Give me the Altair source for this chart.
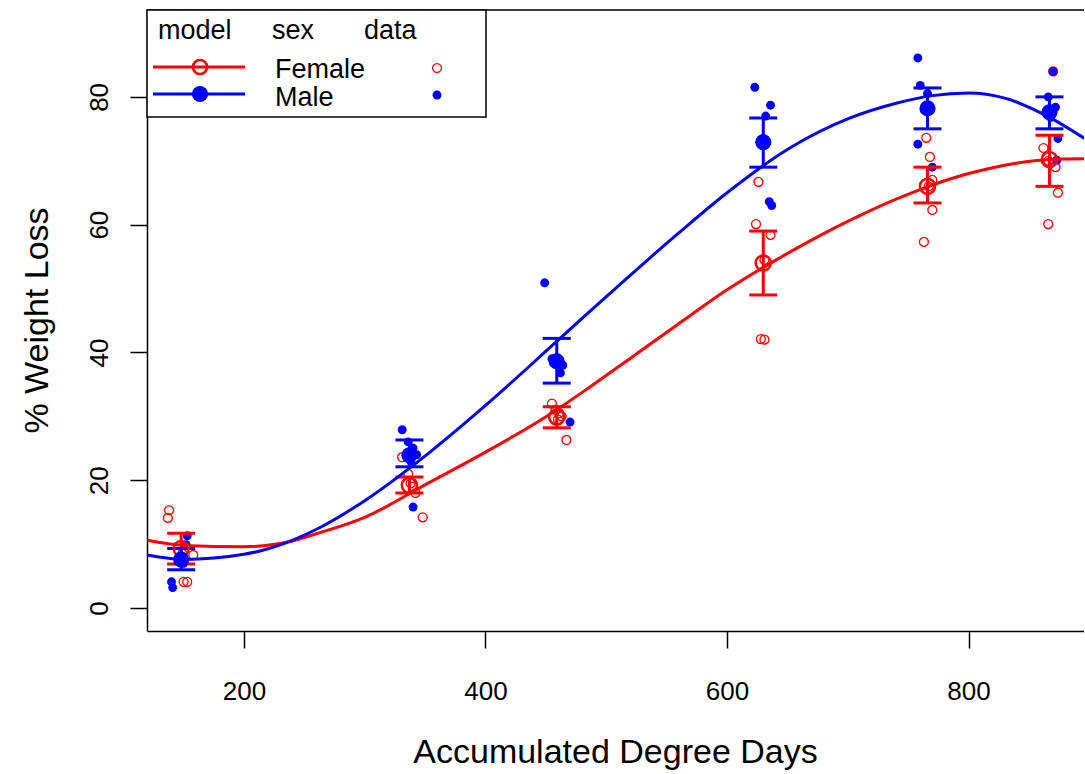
import altair as alt
import pandas as pd

# Group centres (accumulated degree days) at which each sampling took place
group_x = [148, 337, 459, 630, 766, 867]

# Raw observations, female
female_x = [138, 137, 150, 153, 149, 158,
            331, 336, 338, 340, 342, 348,
            455, 458, 461, 463, 460, 467,
            626, 624, 636, 631, 628, 631,
            765, 768, 770, 767, 770, 763,
            870, 862, 866, 872, 874, 866]
female_y = [15.3, 14.1, 4.1, 4.1, 8.5, 8.3,
            23.6, 21.0, 19.5, 19.0, 18.0, 14.2,
            32.0, 31.0, 30.5, 30.0, 29.5, 26.3,
            66.7, 60.1, 58.4, 54.5, 42.1, 42.0,
            73.6, 70.6, 67.0, 66.0, 62.3, 57.3,
            84.0, 72.0, 70.0, 69.0, 65.0, 60.1]

# Raw observations, male
male_x = [140, 141, 153, 152, 147, 150,
          331, 336, 340, 343, 338, 340,
          449, 455, 461, 464, 462, 470,
          623, 636, 632, 630, 635, 637,
          758, 760, 766, 768, 758, 770,
          870, 866, 872, 868, 874, 873]
male_y = [4.1, 3.2, 11.3, 9.9, 8.0, 7.0,
          27.9, 26.0, 25.0, 24.0, 23.0, 15.8,
          50.9, 39.0, 38.5, 38.0, 36.8, 29.1,
          81.5, 78.7, 77.0, 73.5, 63.6, 63.0,
          86.1, 81.8, 80.5, 78.0, 72.6, 69.0,
          84.0, 80.0, 78.4, 76.8, 73.5, 70.1]

# Group means with standard-error limits
female_mean = [9.3, 19.2, 29.9, 54.0, 66.0, 70.2]
female_lo = [6.9, 18.0, 28.2, 49.0, 63.4, 66.0]
female_hi = [11.7, 20.5, 31.5, 59.0, 69.0, 74.0]
male_mean = [7.6, 23.9, 38.6, 72.9, 78.2, 77.6]
male_lo = [6.0, 22.1, 35.2, 69.0, 75.0, 75.0]
male_hi = [9.3, 26.3, 42.2, 76.7, 81.4, 80.0]

# Fitted model curves
fit_x = [120, 150, 200, 240, 263, 300, 354, 400, 453, 485, 520,
         560, 600, 652, 702, 740, 770, 800, 830, 867, 896]
female_fit = [10.6, 9.8, 9.6, 10.5, 11.8, 14.2, 19.7, 24.4, 30.3, 34.4, 39.1,
              44.5, 49.8, 55.7, 60.7, 64.0, 66.2, 68.0, 69.3, 70.2, 70.3]
male_fit = [8.3, 7.6, 8.4, 10.6, 12.6, 16.8, 24.4, 31.7, 40.7, 46.2, 52.1,
            58.7, 65.0, 72.0, 76.7, 79.0, 80.2, 80.6, 79.8, 76.8, 73.5]

RED = "#ff0000"
BLUE = "#0000ff"
FONT = "Liberation Sans"
W, H = 937, 621

raw_f = pd.DataFrame({"x": female_x, "y": female_y})
raw_m = pd.DataFrame({"x": male_x, "y": male_y})
means_f = pd.DataFrame({"x": group_x, "y": female_mean, "lo": female_lo, "hi": female_hi})
means_m = pd.DataFrame({"x": group_x, "y": male_mean, "lo": male_lo, "hi": male_hi})
fit_f = pd.DataFrame({"x": fit_x, "y": female_fit})
fit_m = pd.DataFrame({"x": fit_x, "y": male_fit})
single = pd.DataFrame({"k": [0]})

xscale = alt.Scale(domain=[119.7, 895.6], nice=False, zero=False)
yscale = alt.Scale(domain=[-3.6, 93.6], nice=False, zero=False)

xaxis = alt.Axis(values=[200, 400, 600, 800], grid=False, tickSize=17, tickWidth=1.5,
                 tickColor="#000", domainColor="#000", domainWidth=1.5,
                 labelFont=FONT, labelFontSize=26, labelColor="#000",
                 labelBaseline="alphabetic", labelPadding=51,
                 titleFont=FONT, titleFontSize=34, titleFontWeight="normal", titleColor="#000",
                 titleX=468, titleY=131, titleAlign="center", titleBaseline="alphabetic")
yaxis = alt.Axis(values=[0, 20, 40, 60, 80], grid=False, tickSize=17, tickWidth=1.5,
                 tickColor="#000", domainColor="#000", domainWidth=1.5,
                 labelFont=FONT, labelFontSize=26, labelColor="#000",
                 labelAngle=270, labelAlign="center", labelBaseline="alphabetic",
                 labelPadding=23,
                 titleFont=FONT, titleFontSize=34, titleFontWeight="normal", titleColor="#000",
                 titleAngle=270, titleX=-100, titleY=310, titleAlign="center",
                 titleBaseline="alphabetic")

X_TITLE = "Accumulated Degree Days"
Y_TITLE = "% Weight Loss"


def xq(field="x"):
    return alt.X(f"{field}:Q", scale=xscale, axis=xaxis, title=X_TITLE)


def yq(field="y"):
    return alt.Y(f"{field}:Q", scale=yscale, axis=yaxis, title=Y_TITLE)


pts_f = alt.Chart(raw_f).mark_point(shape="circle", filled=False, color=RED, size=80,
                                    strokeWidth=1.3, opacity=1).encode(x=xq(), y=yq())
pts_m = alt.Chart(raw_m).mark_circle(color=BLUE, size=80, opacity=1).encode(x=xq(), y=yq())

line_f = alt.Chart(fit_f).mark_line(color=RED, strokeWidth=3, interpolate="monotone").encode(
    x=xq(), y=yq())
line_m = alt.Chart(fit_m).mark_line(color=BLUE, strokeWidth=3, interpolate="monotone").encode(
    x=xq(), y=yq())


def bars(df, color):
    stem = alt.Chart(df).mark_rule(color=color, strokeWidth=3).encode(
        x=xq(), y=yq("lo"), y2="hi:Q")
    cap_lo = alt.Chart(df).mark_tick(color=color, orient="horizontal", size=28,
                                     thickness=3, opacity=1).encode(x=xq(), y=yq("lo"))
    cap_hi = alt.Chart(df).mark_tick(color=color, orient="horizontal", size=28,
                                     thickness=3, opacity=1).encode(x=xq(), y=yq("hi"))
    return stem + cap_lo + cap_hi


mean_f = alt.Chart(means_f).mark_point(shape="circle", filled=False, color=RED, size=230,
                                       strokeWidth=2.5, opacity=1).encode(x=xq(), y=yq())
mean_m = alt.Chart(means_m).mark_circle(color=BLUE, size=260, opacity=1).encode(x=xq(), y=yq())

# Frame line along the top of the plotting region
top_rule = alt.Chart(single).mark_rule(color="#000", strokeWidth=1.5).encode(
    x=alt.value(0), x2=alt.value(W), y=alt.value(0))

# Key in the upper-left corner: model / sex / data columns
key_box = alt.Chart(single).mark_rect(fill="white", stroke="#000", strokeWidth=1.5).encode(
    x=alt.value(0), x2=alt.value(339), y=alt.value(0), y2=alt.value(107))


def key_text(label, x, y):
    return alt.Chart(single).mark_text(align="left", baseline="alphabetic", font=FONT,
                                       fontSize=27, color="#000").encode(
        x=alt.value(x), y=alt.value(y), text=alt.value(label))


def key_line(y, color):
    return alt.Chart(single).mark_rule(color=color, strokeWidth=3).encode(
        x=alt.value(6), x2=alt.value(98), y=alt.value(y))


key = (
    key_box
    + key_text("model", 11, 29)
    + key_text("sex", 125, 29)
    + key_text("data", 217, 29)
    + key_text("Female", 128, 68)
    + key_text("Male", 128, 96)
    + key_line(57, RED)
    + key_line(84, BLUE)
    + alt.Chart(single).mark_point(shape="circle", filled=False, color=RED, size=200,
                                   strokeWidth=2.5, opacity=1).encode(
        x=alt.value(53), y=alt.value(57))
    + alt.Chart(single).mark_circle(color=BLUE, size=260, opacity=1).encode(
        x=alt.value(53), y=alt.value(84))
    + alt.Chart(single).mark_point(shape="circle", filled=False, color=RED, size=80,
                                   strokeWidth=1.3, opacity=1).encode(
        x=alt.value(290), y=alt.value(58))
    + alt.Chart(single).mark_circle(color=BLUE, size=80, opacity=1).encode(
        x=alt.value(290), y=alt.value(85))
)

chart = alt.layer(
    pts_f, pts_m,
    bars(means_f, RED), bars(means_m, BLUE),
    mean_f, mean_m,
    line_f, line_m,
    top_rule,
    key,
).properties(
    width=W, height=H,
    autosize=alt.AutoSizeParams(type="none"),
    padding={"left": 147, "top": 10, "right": 0, "bottom": 143},
).configure_view(stroke=None).configure(background="white")

chart.save("out.html", embed_options={"renderer": "svg", "actions": False})
